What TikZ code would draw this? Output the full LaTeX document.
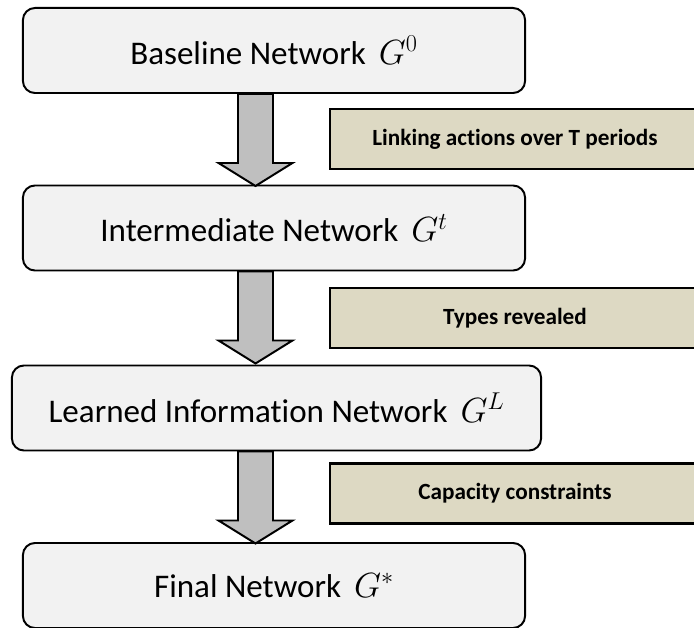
\documentclass[tikz,border=0pt]{standalone}
\usepackage{fontspec}
\setmainfont{Carlito}[Ligatures=NoCommon]
\usetikzlibrary{calc}
\definecolor{notetan}{HTML}{DDD9C3}
\tikzset{
    netbox/.style = {rectangle, rounded corners=0.3cm, line width=1.4pt, draw=black, fill=gray!10, align=center, font=\fontsize{23.5}{28}\selectfont, minimum height=2.125cm, minimum width=12.55cm},
    stepnote/.style = {rectangle, line width=2pt, draw=black, fill=notetan, align=center, font=\bfseries\fontsize{16.5}{19}\selectfont, minimum height=1.5cm, minimum width=9.25cm},
    arrowbody/.style = {line width=1.4pt, draw=black, fill=gray!50, line join=miter},
    downarrow/.pic = {\path[arrowbody] (-17.5,0) -- (-17.5,69) -- (-37,69) -- (0,92) -- (37,69) -- (17.5,69) -- (17.5,0) -- cycle;}
}

\begin{document}
\begin{tikzpicture}[x=0.025cm,y=-0.025cm]
\useasboundingbox (0,0) rectangle (694,628);
\clip (0,0) rectangle (694,628);
%
\coordinate (ax) at (255.5,0);
%
\node[netbox] at (274,50.5) (base) {Baseline Network\, $G^{0}$};
\node[netbox] at (274,228) (inter) {Intermediate Network\, $G^{t}$};
\node[netbox,minimum width=13.225cm] at (276.5,408) (learn) {Learned Information Network\, $G^{L}$};
\node[netbox] at (274,585.5) (final) {Final Network\, $G^{*}$};
%
\pic at (base.south -| ax) {downarrow};
\pic at (inter.south -| ax) {downarrow};
\pic at (learn.south -| ax) {downarrow};
%
\node[stepnote] at (515,139) (link) {Linking actions over T periods};
\node[stepnote] at (515,318) (types) {Types revealed};
\node[stepnote] at (515,493.5) (cap) {Capacity constraints};

\end{tikzpicture}
\end{document}
